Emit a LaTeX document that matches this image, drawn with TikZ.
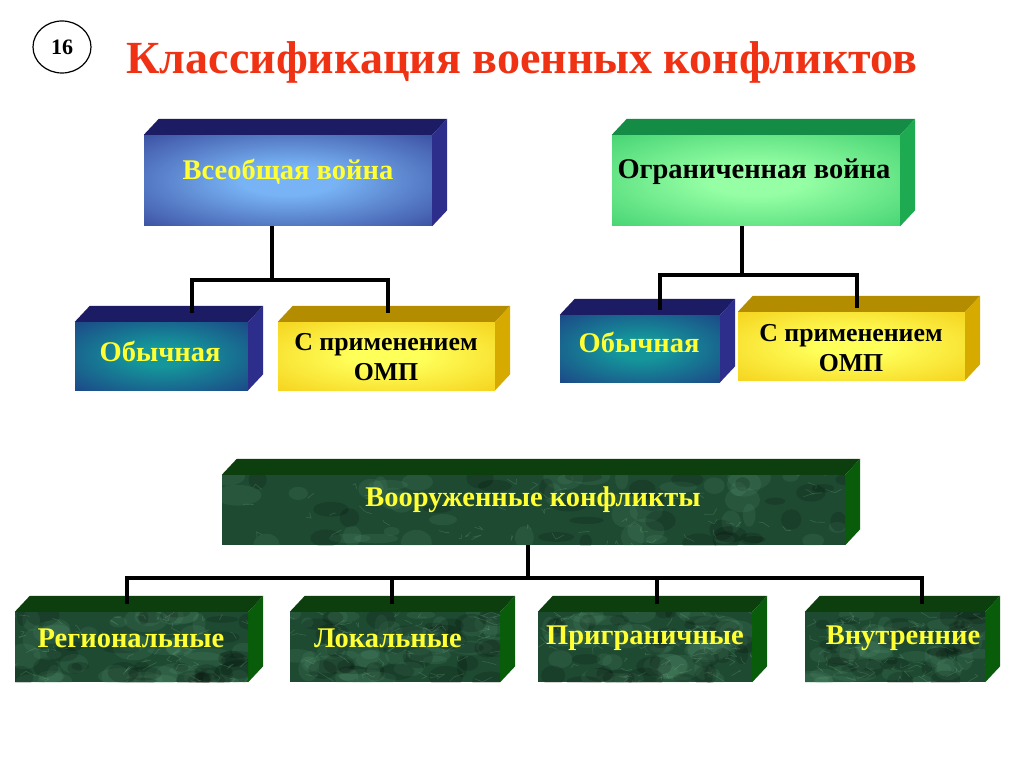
\documentclass[tikz,border=0pt]{standalone}
\usepackage{fontspec}
\setmainfont{Liberation Serif}
\usetikzlibrary{calc,shapes.geometric}
\definecolor{titlered}{RGB}{240,50,20}
\definecolor{txtyellow}{RGB}{255,255,51}
\definecolor{bluein}{RGB}{120,180,245}
\definecolor{blueout}{RGB}{30,30,120}
\definecolor{bluetop}{RGB}{28,28,100}
\definecolor{blueside}{RGB}{45,45,140}
\definecolor{tealin}{RGB}{20,150,155}
\definecolor{tealout}{RGB}{32,32,125}
\definecolor{greenin}{RGB}{150,255,165}
\definecolor{greenout}{RGB}{30,190,90}
\definecolor{greentop}{RGB}{20,140,70}
\definecolor{greenside}{RGB}{30,170,80}
\definecolor{yellowin}{RGB}{255,255,90}
\definecolor{yellowout}{RGB}{240,190,0}
\definecolor{yellowtop}{RGB}{180,140,0}
\definecolor{yellowside}{RGB}{215,170,0}
\definecolor{marblebase}{RGB}{30,74,50}
\definecolor{marblelight}{RGB}{110,175,135}
\definecolor{marblevein}{RGB}{140,200,160}
\definecolor{marbletop}{RGB}{12,62,14}
\definecolor{marbleside}{RGB}{8,92,10}
\pgfdeclareradialshading{bluesh}{\pgfpointorigin}{color(0bp)=(bluein); color(8bp)=(bluein); color(50bp)=(blueout); color(100bp)=(blueout)}
\pgfdeclareradialshading{tealsh}{\pgfpointorigin}{color(0bp)=(tealin); color(8bp)=(tealin); color(50bp)=(tealout); color(100bp)=(tealout)}
\pgfdeclareradialshading{greensh}{\pgfpointorigin}{color(0bp)=(greenin); color(8bp)=(greenin); color(50bp)=(greenout); color(100bp)=(greenout)}
\pgfdeclareradialshading{yellowsh}{\pgfpointorigin}{color(0bp)=(yellowin); color(8bp)=(yellowin); color(50bp)=(yellowout); color(100bp)=(yellowout)}
\tikzset{
  bluefront/.style={inner sep=0pt, shading=bluesh},
  tealfront/.style={inner sep=0pt, shading=tealsh},
  greenfront/.style={inner sep=0pt, shading=greensh},
  yellowfront/.style={inner sep=0pt, shading=yellowsh},
  marblefront/.style={inner sep=0pt, fill=marblebase},
  bluetopf/.style={fill=bluetop}, bluesidef/.style={fill=blueside},
  tealtopf/.style={fill=bluetop}, tealsidef/.style={fill=blueside},
  greentopf/.style={fill=greentop}, greensidef/.style={fill=greenside},
  yellowtopf/.style={fill=yellowtop}, yellowsidef/.style={fill=yellowside},
  marbletopf/.style={fill=marbletop}, marblesidef/.style={fill=marbleside},
  ytxt/.style={text=txtyellow, font=\bfseries\fontsize{28.5}{31}\selectfont, inner sep=0pt},
  btxt/.style={text=black, font=\bfseries\fontsize{28.5}{31}\selectfont, inner sep=0pt, align=center},
  bsmall/.style={text=black, font=\bfseries\fontsize{25.8}{30}\selectfont, inner sep=0pt, align=center},
  conn/.style={line width=3.4pt, black},
}
% #1 name, #2 x1, #3 y1, #4 x2, #5 y2, #6 kind
\newcommand\cuboid[6]{%
  \node[#6front, minimum width={(#4-#2)*1pt}, minimum height={(#5-#3)*1pt}] (#1) at ({(#2+#4)/2},{(#3+#5)/2}) {};
  \fill[#6topf] (#1.north west) -- ++(15,-16) -- ($(#1.north east)+(15,-16)$) -- (#1.north east) -- cycle;
  \fill[#6sidef] (#1.north east) -- ++(15,-16) -- ($(#1.south east)+(15,-16)$) -- (#1.south east) -- cycle;
}
\newcommand\marbletex[4]{%
  \begin{scope}
    \clip (#1,#2) rectangle (#3,#4);
    \foreach \k in {1,...,40}{%
      \pgfmathsetmacro\px{#1+rnd*(#3-#1)}%
      \pgfmathsetmacro\py{#2+rnd*(#4-#2)}%
      \pgfmathsetmacro\rx{6+rnd*18}%
      \pgfmathsetmacro\ry{4+rnd*9}%
      \fill[marblelight, opacity=0.12] (\px,\py) ellipse [x radius=\rx, y radius=\ry];
    }
    \foreach \k in {1,...,30}{%
      \pgfmathsetmacro\px{#1+rnd*(#3-#1)}%
      \pgfmathsetmacro\py{#2+rnd*(#4-#2)}%
      \pgfmathsetmacro\rx{5+rnd*14}%
      \pgfmathsetmacro\ry{3+rnd*8}%
      \fill[black, opacity=0.16] (\px,\py) ellipse [x radius=\rx, y radius=\ry];
    }
    \foreach \k in {1,...,60}{%
      \pgfmathsetmacro\px{#1+rnd*(#3-#1)}%
      \pgfmathsetmacro\py{#2+rnd*(#4-#2)}%
      \draw[marblevein, opacity=0.22, line width=0.6pt, line join=round] (\px,\py) -- ++({rnd*20-10},{rnd*12-6}) -- ++({rnd*20-10},{rnd*12-6});
    }
  \end{scope}}
\begin{document}
\begin{tikzpicture}[x=1pt,y=-1pt]
\pgfmathsetseed{17}
\useasboundingbox (0,0) rectangle (1024,767);
\fill[white] (0,0) rectangle (1024,767);

% page number and title
\node[draw, ellipse, line width=1.2pt, minimum width=58pt, minimum height=52pt, font=\bfseries\fontsize{22}{22}\selectfont] (num) at (62,47) {16};
\node[text=titlered, font=\bfseries\fontsize{46}{50}\selectfont] (title) at (522,62) {Классификация военных конфликтов};

% top level boxes
\cuboid{b1}{144}{135}{432}{226}{blue}
\cuboid{b2}{612}{135}{900}{226}{green}
\node[ytxt] (t1) at (288,172) {Всеобщая война};
\node[btxt] (t2) at (754,172) {Ограниченная война};

% second level
\cuboid{o1}{75}{322}{248}{390}{teal}
\cuboid{y1}{278}{322}{495}{390}{yellow}
\cuboid{o2}{560}{315}{720}{382}{teal}
\cuboid{y2}{738}{312}{965}{380}{yellow}
\node[ytxt] (t3) at (160,351) {Обычная};
\node[bsmall] (t4) at (386,357) {С применением\\ОМП};
\node[ytxt] (t5) at (639,342) {Обычная};
\node[bsmall] (t6) at (851,348) {С применением\\ОМП};

% armed conflicts
\cuboid{m0}{222}{475}{845}{545}{marble}
\marbletex{222}{475}{845}{545}
\cuboid{m1}{15}{612}{248}{682}{marble}
\marbletex{15}{612}{248}{682}
\cuboid{m2}{290}{612}{500}{682}{marble}
\marbletex{290}{612}{500}{682}
\cuboid{m3}{538}{612}{752}{682}{marble}
\marbletex{538}{612}{752}{682}
\cuboid{m4}{805}{612}{985}{682}{marble}
\marbletex{805}{612}{985}{682}
\node[ytxt] (t7) at (533,500) {Вооруженные конфликты};
\node[ytxt] (t8) at (131,638) {Региональные};
\node[ytxt] (t9) at (388,638) {Локальные};
\node[ytxt] (t10) at (645,638) {Приграничные};
\node[ytxt] (t11) at (903,638) {Внутренние};

% connectors
\coordinate (j1) at (272,280);
\coordinate (c1) at (192,313);
\coordinate (c2) at (388,313);
\draw[conn] (j1 |- b1.south) -- (j1);
\draw[conn] (c1) |- (j1) -| (c2);

\coordinate (j2) at (742,275);
\coordinate (c3) at (660,310);
\coordinate (c4) at (857,308);
\draw[conn] (j2 |- b2.south) -- (j2);
\draw[conn] (c3) |- (j2) -| (c4);

\coordinate (j3) at (528,578);
\coordinate (c5) at (127,604);
\coordinate (c6) at (392,604);
\coordinate (c7) at (657,604);
\coordinate (c8) at (922,604);
\draw[conn] (j3 |- m0.south) -- (j3);
\draw[conn] (c5) |- (j3) -| (c8);
\draw[conn] (c6) -- (c6 |- j3);
\draw[conn] (c7) -- (c7 |- j3);
\end{tikzpicture}
\end{document}
